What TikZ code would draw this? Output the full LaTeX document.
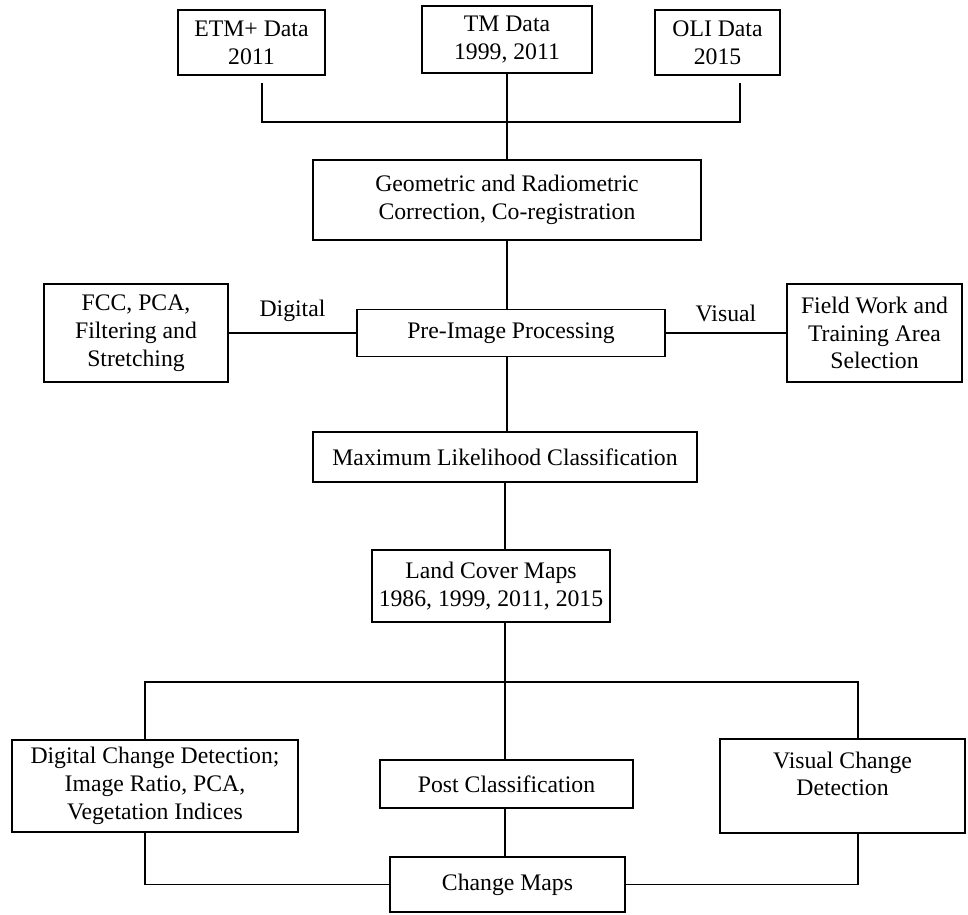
\documentclass[tikz,border=0pt]{standalone}
\usepackage{fontspec}
\setmainfont{Liberation Serif}
\usetikzlibrary{positioning,calc}
\tikzset{
  box/.style={draw=black,line width=0.9pt,fill=white,align=center,inner sep=2pt,font=\fontsize{13.5}{15.8}\selectfont},
  link/.style={draw=black,line width=0.9pt},
  tag/.style={font=\fontsize{13.5}{15.8}\selectfont,inner sep=2pt}
}
\begin{document}
\begin{tikzpicture}[x=0.02cm,y=-0.02cm]
\useasboundingbox (0,0) rectangle (968,915);
\node[box,minimum width=2.94cm,minimum height=1.30cm] (etm) at (251.5,42.5) {ETM+ Data\\2011};
\node[box,minimum width=3.40cm,minimum height=1.34cm] (tm) at (507,39.5) {TM Data\\1999, 2011};
\node[box,minimum width=2.50cm,minimum height=1.30cm] (oli) at (717.5,42.5) {OLI Data\\2015};
\node[box,minimum width=7.76cm,minimum height=1.60cm] (geo) at (507,200) {Geometric and Radiometric\\Correction, Co-registration};
\node[box,minimum width=6.16cm,minimum height=0.94cm] (pre) at (511,333) {Pre-Image Processing};
\node[box,minimum width=3.68cm,minimum height=1.96cm] (fcc) at (136,333) {FCC, PCA,\\Filtering and\\Stretching};
\node[box,minimum width=3.50cm,minimum height=1.96cm] (field) at (874.5,333) {Field Work and\\Training Area\\Selection};
\node[box,minimum width=7.68cm,minimum height=1.00cm] (ml) at (505,457) {Maximum Likelihood Classification};
\node[box,minimum width=4.76cm,minimum height=1.44cm] (land) at (491,586) {Land Cover Maps\\1986, 1999, 2011, 2015};
\node[box,minimum width=5.72cm,minimum height=1.84cm] (dcd) at (155,786) {Digital Change Detection;\\Image Ratio, PCA,\\Vegetation Indices};
\node[box,minimum width=5.06cm,minimum height=0.96cm] (post) at (506.5,784) {Post Classification};
\node[box,minimum width=4.90cm,minimum height=1.88cm,text depth=14pt] (vcd) at (842.5,786) {Visual Change\\Detection};
\node[box,minimum width=4.70cm,minimum height=1.10cm] (cm) at (507.5,884.5) {Change Maps};

\coordinate (busL) at (262,122);
\coordinate (busR) at (740,122);
\coordinate (split) at (505,682);
\coordinate (splitL) at (145,682);
\coordinate (splitR) at (858,682);

\draw[link] ([yshift=-4pt]etm.south -| busL) -- (busL) -- (busR) -- ([yshift=-4pt]oli.south -| busR);
\draw[link] (tm.south) -- (geo.north -| tm.south);
\draw[link] (geo.south) -- (pre.north -| geo.south);
\draw[link] (fcc) -- node[tag,above=4pt]{Digital} (pre);
\draw[link] (pre) -- node[tag,above=4pt]{Visual} (field);
\draw[link] (pre.south -| geo.south) -- (ml.north -| geo.south);
\draw[link] (ml.south -| split) -- (land.north -| split);
\draw[link] (land.south -| split) -- (split);
\draw[link] (dcd.north -| splitL) -- (splitL) -- (splitR) -- (vcd.north -| splitR);
\draw[link] (split) -- (post.north -| split);
\draw[link] (post.south -| split) -- (cm.north -| split);
\draw[link] (dcd.south -| splitL) |- (cm.west);
\draw[link] (vcd.south -| splitR) |- (cm.east);
\end{tikzpicture}
\end{document}
